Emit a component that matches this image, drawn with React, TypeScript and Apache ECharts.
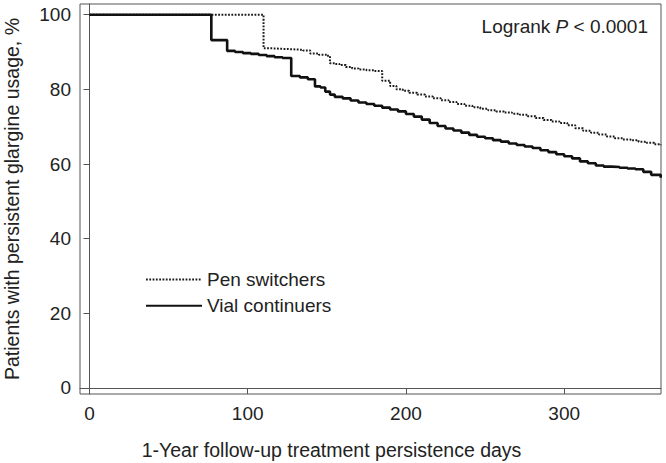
import React, { useEffect, useRef } from "react";
import * as echarts from "echarts";

const seriesNames = ["Pen switchers", "Vial continuers"];

const penSwitchers: [number, number][] = [
  [0, 100], [110, 91.0], [115, 90.9], [120, 90.8], [125, 90.7], [130, 90.6], [135, 90.4],
  [139.5, 89.6], [145, 89.3], [150, 89.0], [152, 87.0], [155, 86.8], [158, 86.5], [162, 86.0],
  [166, 85.6], [170, 85.3], [175, 85.1], [180, 84.9], [185, 82.3], [190, 80.9], [194, 80.0],
  [198, 79.6], [202, 79.1], [207, 78.6], [212, 78.1], [217, 77.6], [222, 77.1], [227, 76.6],
  [232, 76.1], [237, 75.6], [242, 75.2], [247, 74.8], [252, 74.4], [257, 74.1], [262, 73.8],
  [267, 73.5], [272, 73.2], [277, 72.8], [282, 72.3], [287, 71.8], [292, 71.4], [297, 71.0],
  [302, 70.4], [307, 69.6], [312, 68.9], [317, 68.4], [322, 67.9], [327, 67.4], [332, 66.9],
  [337, 66.6], [342, 66.4], [347, 66.0], [352, 65.7], [357, 65.3], [361, 65.0],
];

const vialContinuers: [number, number][] = [
  [0, 100], [77, 93.2], [87, 90.3], [92, 90.0], [97, 89.7], [102, 89.5], [107, 89.2],
  [112, 88.9], [117, 88.6], [122, 88.4], [127.5, 83.6], [133, 83.2], [138, 82.7],
  [142.5, 80.8], [146, 80.5], [149, 79.4], [152, 78.6], [155, 78.0], [160, 77.6], [165, 77.0],
  [170, 76.5], [175, 76.1], [180, 75.6], [185, 75.1], [190, 74.6], [195, 74.1], [200, 73.4],
  [205, 72.7], [210, 71.9], [215, 71.0], [220, 70.2], [225, 69.5], [230, 69.0], [235, 68.4],
  [240, 67.8], [245, 67.3], [250, 66.9], [255, 66.4], [260, 66.0], [265, 65.5], [270, 65.1],
  [275, 64.7], [280, 64.3], [285, 63.7], [290, 63.2], [295, 62.6], [300, 62.1], [305, 61.5],
  [310, 60.7], [315, 60.2], [320, 59.6], [325, 59.3], [330, 59.2], [335, 59.0], [340, 58.8],
  [345, 58.6], [350, 57.9], [355, 57.1], [361, 56.3],
];

const xTicks = [0, 100, 200, 300];
const yTicks = [0, 20, 40, 60, 80, 100];

const xTitle = "1-Year follow-up treatment persistence days";
const yTitle = "Patients with persistent glargine usage, %";

const FONT = "'Liberation Sans', Arial, Helvetica, sans-serif";
const TEXT = "#222";
const AXIS = "#555";

export default function App() {
  const ref = useRef<HTMLDivElement>(null);
  useEffect(() => {
    if (!ref.current) return;
    const chart = echarts.init(ref.current, undefined, { renderer: "svg" });
    chart.setOption({
      animation: false,
      backgroundColor: "#fff",
      textStyle: { fontFamily: FONT, color: TEXT },
      grid: {
        left: 80, top: 4, right: 5, bottom: 69,
        show: true, borderColor: AXIS, borderWidth: 1, containLabel: false,
        outerBoundsMode: "none",
      },
      xAxis: {
        type: "value", min: -6, max: 361.2,
        splitLine: { show: false },
        axisLine: { show: true, lineStyle: { color: AXIS, width: 1 } },
        axisTick: { show: true, length: 6, lineStyle: { color: AXIS }, customValues: xTicks },
        axisLabel: { customValues: xTicks, fontSize: 19, color: TEXT, margin: 10, fontFamily: FONT },
        name: xTitle, nameLocation: "middle", nameGap: 46,
        nameTextStyle: { fontSize: 19.5, color: TEXT, fontFamily: FONT, padding: [0, 78, 0, 0] },
      },
      yAxis: {
        type: "value", min: -1.61, max: 102.87,
        splitLine: { show: false },
        axisLine: { show: true, lineStyle: { color: AXIS, width: 1 } },
        axisTick: { show: true, length: 6, lineStyle: { color: AXIS }, customValues: yTicks },
        axisLabel: { customValues: yTicks, fontSize: 19, color: TEXT, margin: 9, fontFamily: FONT },
        name: yTitle, nameLocation: "middle", nameGap: 58, nameRotate: 90,
        nameTextStyle: { fontSize: 19.5, color: TEXT, fontFamily: FONT },
      },
      legend: {
        orient: "vertical", left: 140, top: 265, itemWidth: 56, itemHeight: 14, itemGap: 7.3,
        itemStyle: { opacity: 0 },
        textStyle: { fontSize: 19, color: TEXT, fontFamily: FONT },
        data: seriesNames,
      },
      graphic: [
        {
          type: "text", right: 18, top: 17,
          style: {
            text: "{a|Logrank }{b|P}{a| < 0.0001}",
            rich: {
              a: { fontSize: 19, fontFamily: FONT, fill: TEXT },
              b: { fontSize: 19, fontFamily: FONT, fill: TEXT, fontStyle: "italic" },
            },
          },
        },
      ],
      series: [
        {
          name: seriesNames[0], type: "line", step: "end", symbol: "none",
          data: penSwitchers,
          lineStyle: { color: "#1a1a1a", width: 2, type: [1.8, 1.5] },
          itemStyle: { color: "#1a1a1a" },
        },
        {
          name: seriesNames[1], type: "line", step: "end", symbol: "none",
          data: vialContinuers,
          lineStyle: { color: "#111", width: 2.6, type: "solid" },
          itemStyle: { color: "#111" },
        },
      ],
    });
    return () => chart.dispose();
  }, []);
  return (
    <div
      ref={ref}
      style={{ position: "fixed", left: 0, top: 0, width: 666, height: 463 }}
    />
  );
}
